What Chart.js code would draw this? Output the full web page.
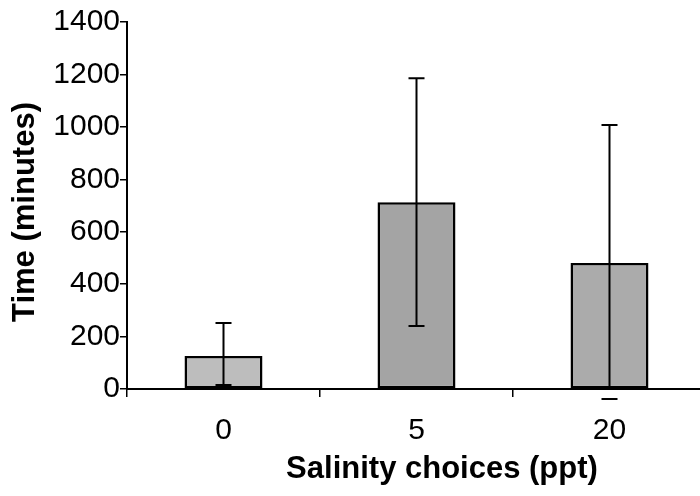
<!DOCTYPE html>
<html>
<head>
<meta charset="utf-8">
<script src="https://cdn.jsdelivr.net/npm/chart.js@4.4.1/dist/chart.umd.min.js"></script>
<style>
  html, body { margin: 0; padding: 0; background: #fff; overflow: hidden; }
  #wrap { width: 706px; height: 496px; }
</style>
</head>
<body>
<div id="wrap"><canvas id="myChart"></canvas></div>
<script>
// salinity choices (ppt) and mean time spent (minutes)
const categories = ["0", "5", "20"];
const meanTime = [126, 712, 481];
const errUpper = [252, 1185, 1007];
const errLower = [15, 240, -38];

const yTitle = "Time (minutes)";
const xTitle = "Salinity choices (ppt)";

const fontFamily = "'Liberation Sans', Arial, sans-serif";

// error bars drawn from the arrays through the y scale
const errorBars = {
  id: "errorBars",
  afterDatasetsDraw(chart) {
    const ctx = chart.ctx;
    const y = chart.scales.y;
    const meta = chart.getDatasetMeta(0);
    ctx.save();
    ctx.strokeStyle = "#000";
    ctx.lineWidth = 2;
    meta.data.forEach((bar, i) => {
      const x = bar.x;
      const top = y.getPixelForValue(errUpper[i]);
      const bot = y.getPixelForValue(errLower[i]);
      const lineEnd = y.getPixelForValue(Math.max(errLower[i], 0));
      ctx.beginPath();
      ctx.moveTo(x, top);
      ctx.lineTo(x, lineEnd);
      ctx.moveTo(x - 8, top);
      ctx.lineTo(x + 8, top);
      ctx.moveTo(x - 8, bot);
      ctx.lineTo(x + 8, bot);
      ctx.stroke();
    });
    ctx.restore();
  },
};

// axis titles
const axisTitles = {
  id: "axisTitles",
  afterDraw(chart) {
    const ctx = chart.ctx;
    ctx.save();
    ctx.fillStyle = "#000";
    ctx.font = "bold 31px " + fontFamily;
    ctx.textAlign = "center";
    ctx.textBaseline = "middle";
    ctx.fillText(xTitle, 442, 469);
    ctx.translate(25, 212);
    ctx.rotate(-Math.PI / 2);
    ctx.fillText(yTitle, 0, 0);
    ctx.restore();
  },
};

const config = {
  type: "bar",
  data: {
    labels: categories,
    datasets: [
      {
        data: meanTime,
        backgroundColor: ["#bdbdbd", "#a4a4a4", "#ababab"],
        borderColor: "#000",
        borderWidth: 2.5,
        borderSkipped: false,
        barPercentage: 0.404,
        categoryPercentage: 1,
      },
    ],
  },
  options: {
    responsive: true,
    maintainAspectRatio: false,
    animation: false,
    layout: { padding: { top: 22, left: 0, right: 0, bottom: 0 } },
    plugins: {
      legend: { display: false },
      tooltip: { enabled: false },
    },
    scales: {
      x: {
        grid: {
          drawOnChartArea: false,
          drawTicks: true,
          tickLength: 8,
          color: "#000",
          lineWidth: 1.5,
        },
        border: { display: true, color: "#000", width: 2 },
        ticks: {
          color: "#000",
          padding: 16,
          font: { family: fontFamily, size: 30 },
        },
        afterFit: (s) => { s.height = 107; },
      },
      y: {
        min: 0,
        max: 1400,
        grid: {
          drawOnChartArea: false,
          drawTicks: true,
          tickLength: 7,
          color: "#000",
          lineWidth: 1.5,
        },
        border: { display: true, color: "#000", width: 2 },
        ticks: {
          stepSize: 200,
          color: "#000",
          padding: 0,
          font: { family: fontFamily, size: 30 },
          callback: (v) => String(v),
        },
        afterFit: (s) => { s.width = 127; },
      },
    },
  },
  plugins: [errorBars, axisTitles],
};

let myChart = new Chart(document.getElementById("myChart"), config);
</script>
</body>
</html>
